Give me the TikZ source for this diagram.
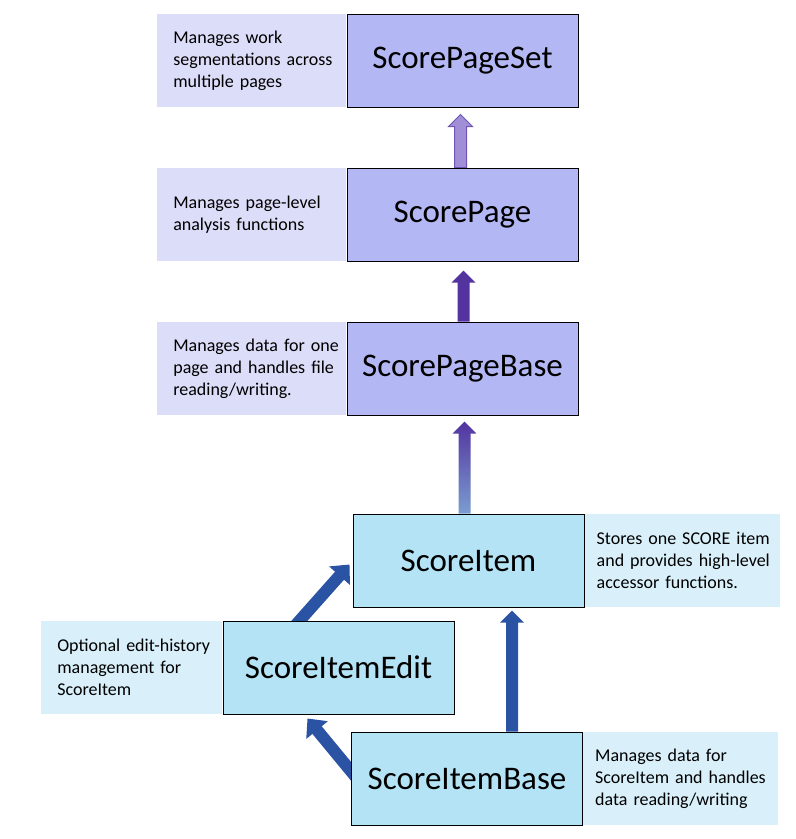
\documentclass[tikz,border=0pt]{standalone}
\usepackage{fontspec}
\setmainfont{Carlito}
\usetikzlibrary{positioning,calc,arrows.meta,backgrounds}

\definecolor{cPage}{HTML}{B3B8F5}
\definecolor{cPageNote}{HTML}{DCDDF8}
\definecolor{cItem}{HTML}{B3E3F5}
\definecolor{cItemNote}{HTML}{D9F0FA}
\definecolor{cPurple}{HTML}{5233A0}
\definecolor{cLilac}{HTML}{A08FD6}
\definecolor{cLilacEdge}{HTML}{7055B5}
\definecolor{cSky}{HTML}{7B9DD0}
\definecolor{cBlue}{HTML}{2B53A3}

% fat upward arrow: style, tail, tip
\newcommand{\fatup}[3]{%
  \path[#1] let \p1=(#2), \p2=(#3) in
    (\x1-6pt,\y1) -- (\x1-6pt,\y2-12pt) -- (\x1-12pt,\y2-12pt) -- (\x1,\y2)
    -- (\x1+12pt,\y2-12pt) -- (\x1+6pt,\y2-12pt) -- (\x1+6pt,\y1) -- cycle;}

\begin{document}
\begin{tikzpicture}[x=1pt,y=-1pt,node distance=60pt,
  cls/.style={draw=black,line width=1pt,minimum width=231pt,minimum height=93pt,
    inner sep=0pt,font=\fontsize{33}{40}\selectfont},
  pagecls/.style={cls,fill=cPage},
  itemcls/.style={cls,fill=cItem},
  note/.style={minimum height=93pt,inner xsep=16pt,inner ysep=0pt,align=left,
    font=\fontsize{18}{22}\selectfont},
  pagenote/.style={note,fill=cPageNote,text width=157pt},
  itemnote/.style={note,fill=cItemNote,inner xsep=12pt,text width=171pt},
  blueline/.style={draw=cBlue,line width=12pt,-{Triangle[width=27pt,length=15pt]}}]

  \useasboundingbox (0,0) rectangle (796,839);

  % classes
  \node[pagecls] (pageset) at (462.5,60.5) {ScorePageSet};
  \node[pagecls] (page) [below=of pageset] {ScorePage};
  \node[pagecls] (pagebase) [below=of page] {ScorePageBase};
  \node[itemcls] (item) [below=98pt of pagebase, xshift=6pt] {ScoreItem};
  \node[itemcls] (edit) [below=13pt of item, xshift=-130pt] {ScoreItemEdit};
  \node[itemcls] (base) [below=124pt of item, xshift=-1.5pt] {ScoreItemBase};

  \begin{scope}[on background layer]
    % descriptions
    \node[pagenote] (pagesetnote) [left=0pt of pageset]
      {Manages work\\\mbox{segmentations across}\\multiple pages};
    \node[pagenote] (pagenote) [left=0pt of page]
      {Manages page-level\\analysis functions};
    \node[pagenote] (pagebasenote) [left=0pt of pagebase]
      {\mbox{Manages data for one}\\\mbox{page and handles file}\\reading/writing.};
    \node[itemnote] (itemnote) [right=0pt of item]
      {\mbox{Stores one SCORE item}\\\mbox{and provides high-level}\\accessor functions.};
    \node[note,fill=cItemNote,text width=149pt] (editnote) [left=0pt of edit]
      {\mbox{Optional edit-history}\\management for\\ScoreItem};
    \node[itemnote] (basenote) [right=0pt of base]
      {Manages data for\\\mbox{ScoreItem and handles}\\data reading/writing};

    % inheritance
    \fatup{draw=cLilacEdge,line width=1pt,fill=cLilac}{[xshift=-2pt]page.north}{$(pageset.south)-(0,7pt)$}
    \fatup{fill=cPurple}{[xshift=1pt]pagebase.north}{$(page.south)-(0,9pt)$}
    \fatup{top color=cPurple,bottom color=cSky}{[xshift=-4pt]item.north}{$(pagebase.south)-(0,6pt)$}
    \fatup{fill=cBlue}{[xshift=45pt]base.north}{$(item.south)-(0,3pt)$}
    \draw[blueline] ([xshift=71pt,yshift=-7pt]edit.north west) -- ([xshift=-3pt,yshift=-4pt]item.west);
    \draw[blueline] ([xshift=6pt]base.west) -- ([xshift=-31pt,yshift=-4pt]edit.south);
  \end{scope}
\end{tikzpicture}
\end{document}
